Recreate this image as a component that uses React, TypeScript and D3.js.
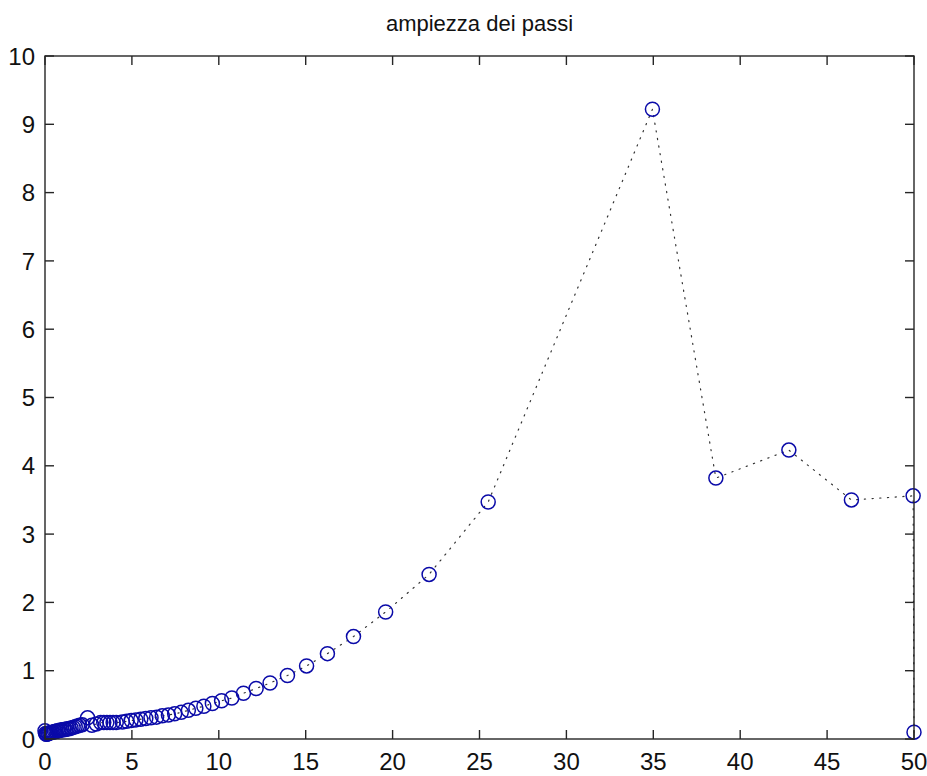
import React from 'react';
import * as d3 from 'd3';

// step start times (x) and step sizes (y)
const stepT = [
  0, 0.03, 0.07, 0.11, 0.16, 0.21, 0.27, 0.33, 0.4, 0.47,
  0.55, 0.63, 0.71, 0.8, 0.89, 0.98, 1.08, 1.18, 1.28, 1.39,
  1.5, 1.62, 1.74, 1.87, 2.0, 2.14, 2.45, 2.7, 2.95,
  3.2, 3.38, 3.56, 3.74, 3.92, 4.1, 4.45, 4.7, 4.96, 5.23,
  5.51, 5.8, 6.1, 6.42, 6.75, 7.1, 7.46, 7.84, 8.25, 8.68,
  9.14, 9.63, 10.16, 10.75, 11.42, 12.15, 12.95, 13.95, 15.05, 16.25,
  17.75, 19.6, 22.1, 25.5, 34.95, 38.6, 42.8, 46.4, 49.95, 50,
];
const stepH = [
  0.12, 0.08, 0.07, 0.07, 0.08, 0.08, 0.09, 0.09, 0.1, 0.1,
  0.11, 0.11, 0.12, 0.12, 0.13, 0.13, 0.14, 0.14, 0.15, 0.15,
  0.16, 0.17, 0.18, 0.19, 0.2, 0.21, 0.31, 0.2, 0.22,
  0.24, 0.24, 0.24, 0.24, 0.24, 0.24, 0.25, 0.26, 0.27, 0.28,
  0.29, 0.3, 0.31, 0.32, 0.34, 0.35, 0.37, 0.39, 0.42, 0.45,
  0.48, 0.52, 0.56, 0.6, 0.67, 0.74, 0.82, 0.93, 1.07, 1.25,
  1.5, 1.86, 2.41, 3.47, 9.22, 3.82, 4.23, 3.5, 3.56, 0.1,
];

const xTicks = [0, 5, 10, 15, 20, 25, 30, 35, 40, 45, 50];
const yTicks = [0, 1, 2, 3, 4, 5, 6, 7, 8, 9, 10];
const title = 'ampiezza dei passi';

const App = () => {
  const width = 927;
  const height = 776;
  const box = { left: 45, right: 914, top: 56, bottom: 739 };
  const tick = 9;
  const font = '"Liberation Sans", Arial, sans-serif';

  const x = d3.scaleLinear().domain([0, 50]).range([box.left, box.right]);
  const y = d3.scaleLinear().domain([0, 10]).range([box.bottom, box.top]);

  const points = stepT.map((t, i) => [t, stepH[i]] as [number, number]);
  const linePath = d3.line<[number, number]>()
    .x(d => x(d[0]))
    .y(d => y(d[1]))(points) || '';

  const axisColor = '#262626';

  return (
    <div style={{ position: 'absolute', left: 0, top: 0 }}>
      <svg width={width} height={height} style={{ display: 'block', background: '#fff' }}>
        {/* title */}
        <text x={(box.left + box.right) / 2} y={31} textAnchor="middle"
          fontFamily={font} fontSize={22} fill="#111">{title}</text>

        {/* dotted connecting line */}
        <path d={linePath} fill="none" stroke="#333" strokeWidth={1.2}
          strokeDasharray="1.2,6.5" strokeLinecap="round" />

        {/* markers */}
        {points.map((d, i) => (
          <circle key={i} cx={x(d[0])} cy={y(d[1])} r={7}
            fill="none" stroke="#0a0aa8" strokeWidth={1.5} />
        ))}

        {/* box */}
        <rect x={box.left} y={box.top} width={box.right - box.left} height={box.bottom - box.top}
          fill="none" stroke={axisColor} strokeWidth={1.4} />

        {/* x ticks (bottom and top) */}
        {xTicks.map(t => (
          <g key={'x' + t}>
            <line x1={x(t)} x2={x(t)} y1={box.bottom} y2={box.bottom - tick} stroke={axisColor} strokeWidth={1.4} />
            <line x1={x(t)} x2={x(t)} y1={box.top} y2={box.top + tick} stroke={axisColor} strokeWidth={1.4} />
            <text x={x(t)} y={770} textAnchor="middle" fontFamily={font} fontSize={24} fill="#111">{t}</text>
          </g>
        ))}

        {/* y ticks (left and right) */}
        {yTicks.map(t => (
          <g key={'y' + t}>
            <line x1={box.left} x2={box.left + tick} y1={y(t)} y2={y(t)} stroke={axisColor} strokeWidth={1.4} />
            <line x1={box.right} x2={box.right - tick} y1={y(t)} y2={y(t)} stroke={axisColor} strokeWidth={1.4} />
            <text x={35} y={y(t)} dy="0.36em" textAnchor="end" fontFamily={font} fontSize={24} fill="#111">{t}</text>
          </g>
        ))}
      </svg>
    </div>
  );
};

export default App;
